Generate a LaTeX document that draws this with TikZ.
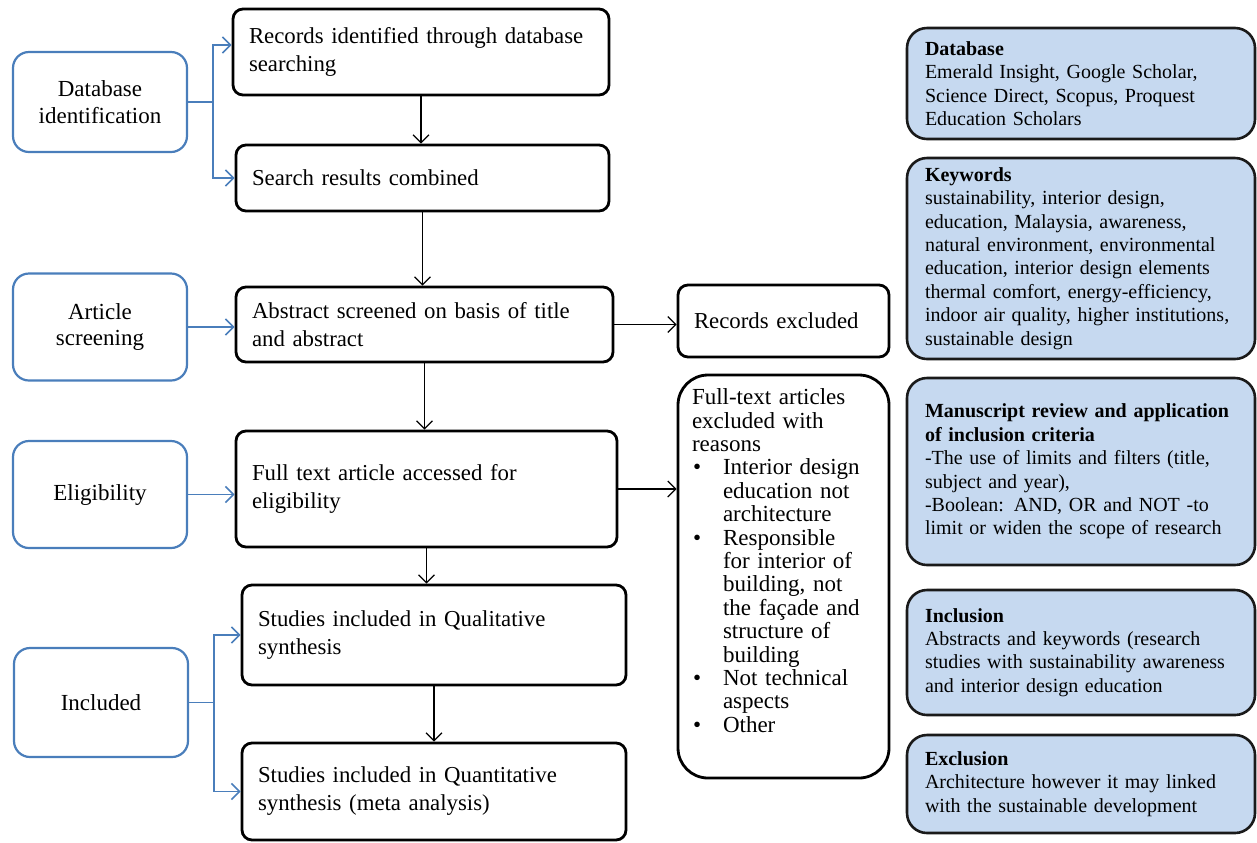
\documentclass[tikz,border=0pt]{standalone}
\usepackage{fontspec}
\setmainfont{Liberation Serif}
\usepackage{xcolor}
\definecolor{pLine}{HTML}{4A7EBB}
\definecolor{pFill}{HTML}{C6D9F0}
\definecolor{pDark}{HTML}{1A1A1A}
\usetikzlibrary{arrows.meta, positioning}

\newcommand{\bul}{\makebox[15.5pt][l]{\hspace{0.5pt}\textbullet}}
\newcommand{\ind}{\hspace*{15.5pt}}

\begin{document}
\begin{tikzpicture}[
  x=0.5pt, y=-0.5pt,
  every node/.style={font=\fontsize{11.4}{14}\selectfont},
  stage/.style={rectangle, rounded corners=8pt, draw=pLine, line width=1.1pt,
                minimum width=87pt, align=center,
                font=\fontsize{11.5}{13.3}\selectfont},
  flow/.style={rectangle, rounded corners=5pt, draw=black, line width=1.4pt,
               inner xsep=8pt, align=left},
  note/.style={rectangle, rounded corners=10pt, draw=pDark, fill=pFill,
               line width=1.3pt, text width=156pt, inner xsep=9pt, align=left,
               font=\fontsize{10}{11.7}\selectfont},
  arr/.style={-{Straight Barb[length=4pt,width=8pt]}, line width=0.6pt},
  barr/.style={-{Straight Barb[length=4pt,width=8pt]}, draw=pLine, line width=0.8pt}
]
\useasboundingbox (0,0) rectangle (1257,842);

% stages on the left
\node[stage, minimum height=50pt]   (dbid)   at (100,102)   {Database\\identification};
\node[stage, minimum height=53.5pt] (artscr) at (100,327)   {Article\\screening};
\node[stage, minimum height=53.5pt] (elig)   at (100,494.5) {Eligibility};
\node[stage, minimum height=54.5pt] (incl)   at (101,702.5) {Included};

% main flow
\node[flow, text width=172pt, minimum height=43pt]   (recid)   at (421,52)    {Records identified through database\\searching};
\node[flow, text width=170.5pt, minimum height=33pt] (search)  at (422.5,178) {Search results combined};
\node[flow, text width=172.5pt, minimum height=37.5pt] (abstr) at (424.5,324.5) {Abstract screened on basis of title\\and abstract};
\node[flow, text width=174.5pt, minimum height=58pt] (fulltxt) at (426.5,489)  {Full text article accessed for\\eligibility};
\node[flow, text width=176pt, minimum height=50pt]   (qual)    at (434,635)    {Studies included in Qualitative\\synthesis};
\node[flow, text width=176pt, minimum height=48.5pt] (quant)   at (434,791.5)  {Studies included in Quantitative\\synthesis (meta analysis)};

% exclusions
\node[flow, text width=89.5pt, minimum height=36pt] (recex) at (783.5,321) {Records excluded};
\node[flow, rounded corners=15pt, inner xsep=7pt, text width=91.5pt,
      minimum height=201.5pt, font=\fontsize{11.5}{11.7}\selectfont] (fullex) at (783.5,576.5)
  {Full-text articles\\excluded with\\reasons\\
   \bul Interior design\\\ind education not\\\ind architecture\\
   \bul Responsible\\\ind for interior of\\\ind building, not\\\ind the fa\c{c}ade and\\\ind structure of\\\ind building\\
   \bul Not technical\\\ind aspects\\
   \bul Other\rule[-16pt]{0pt}{16pt}};

% notes on the right
\node[note, minimum height=55.5pt] (dbnote) at (1081,83.5)
  {\textbf{Database}\\Emerald Insight, Google Scholar,\\Science Direct, Scopus, Proquest\\Education Scholars};
\node[note, minimum height=100.5pt] (kwnote) at (1081,258.5)
  {\textbf{Keywords}\\sustainability, interior design,\\education, Malaysia, awareness,\\natural environment, environmental\\education, interior design elements\\thermal comfort, energy-efficiency,\\indoor air quality, higher institutions,\\sustainable design};
\node[note, minimum height=93.5pt] (msnote) at (1081,471.5)
  {\textbf{Manuscript review and application}\\\textbf{of inclusion criteria}\\-The use of limits and filters (title,\\subject and year),\\-Boolean: AND, OR and NOT -to\\limit or widen the scope of research};
\node[note, minimum height=62.5pt] (innote) at (1081,652.5)
  {\textbf{Inclusion}\\Abstracts and keywords (research\\studies with sustainability awareness\\and interior design education};
\node[note, minimum height=49pt] (exnote) at (1081,784)
  {\textbf{Exclusion}\\Architecture however it may linked\\with the sustainable development};

% blue connectors
\draw[pLine, line width=0.8pt] (dbid.east) -- ++(25,0) coordinate (dbfork);
\draw[barr] (dbfork) |- ([yshift=3.5pt]recid.west);
\draw[barr] (dbfork) |- (search.west);
\draw[barr] (artscr.east) -- (artscr.east -| abstr.west);
\draw[barr] (elig.east) -- (elig.east -| fulltxt.west);
\draw[pLine, line width=0.8pt] (incl.east) -- ++(25,0) coordinate (infork);
\draw[barr] (infork) |- (qual.west);
\draw[barr] (infork) |- (quant.west);

% black connectors
\draw[arr] (recid.south) -- (recid.south |- search.north);
\draw[arr] (search.south) -- (search.south |- abstr.north);
\draw[arr] (abstr.south) -- (abstr.south |- fulltxt.north);
\draw[arr] (fulltxt.south) -- (fulltxt.south |- qual.north);
\draw[arr] (qual.south) -- (qual.south |- quant.north);
\draw[arr] (abstr.east) -- (abstr.east -| recex.west);
\draw[arr] (fulltxt.east) -- (fulltxt.east -| fullex.west);
\end{tikzpicture}
\end{document}
